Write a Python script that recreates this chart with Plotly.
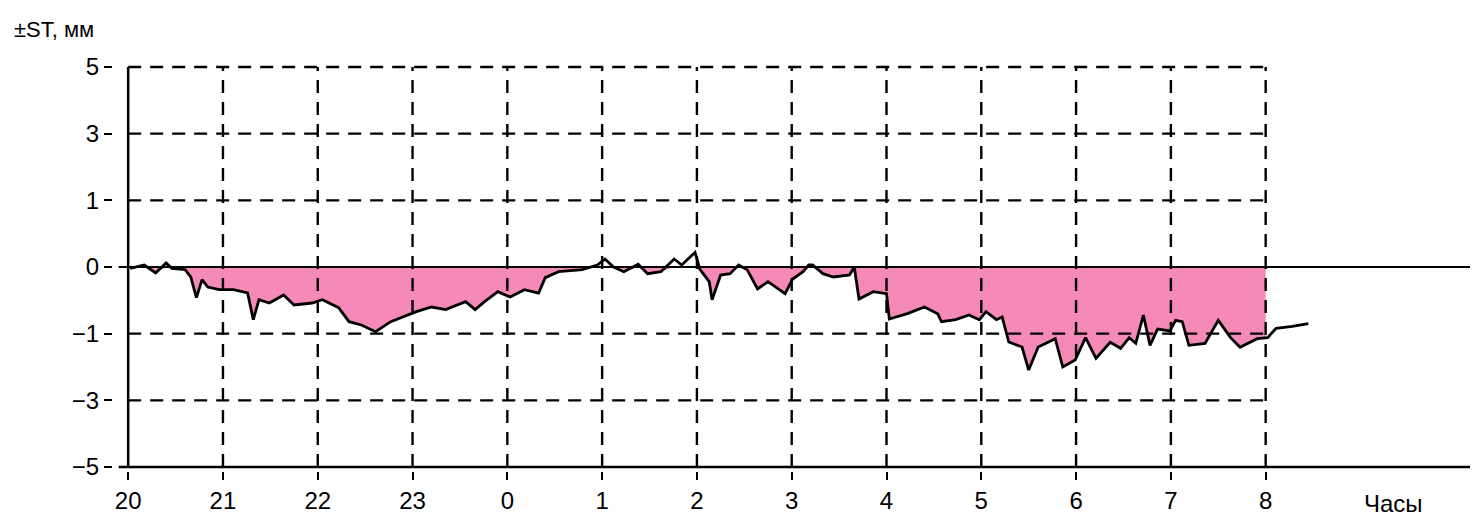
import numpy as np
import plotly.graph_objects as go

# hours elapsed since 20:00
hours = [0.02,0.17,0.29,0.40,0.46,0.60,0.66,0.72,0.78,0.84,
         0.96,1.11,1.26,1.32,1.38,1.49,1.64,1.75,1.94,2.05,
         2.22,2.33,2.46,2.61,2.77,2.90,3.04,3.20,3.35,3.56,
         3.66,3.76,3.90,4.03,4.18,4.33,4.40,4.54,4.65,4.79,
         4.95,5.03,5.12,5.23,5.38,5.48,5.62,5.76,5.84,5.98,
         6.03,6.13,6.16,6.25,6.35,6.44,6.53,6.64,6.75,6.86,
         6.93,7.01,7.12,7.18,7.22,7.33,7.44,7.61,7.66,7.71,
         7.86,8.00,8.03,8.22,8.40,8.54,8.58,8.73,8.87,8.98,
         9.05,9.16,9.22,9.29,9.43,9.50,9.60,9.71,9.78,9.86,
         9.99,10.10,10.21,10.36,10.47,10.56,10.63,10.71,10.78,10.86,
         10.99,11.05,11.12,11.19,11.36,11.50,11.63,11.73,11.91,12.02,
         12.11,12.28,12.45]

# ST deviation, mm
st_mm = [-0.02,0.03,-0.09,0.06,-0.02,-0.04,-0.15,-0.46,-0.19,-0.30,
         -0.34,-0.34,-0.39,-0.79,-0.49,-0.54,-0.42,-0.57,-0.54,-0.49,
         -0.61,-0.82,-0.87,-0.97,-0.82,-0.75,-0.67,-0.60,-0.64,-0.52,
         -0.64,-0.52,-0.37,-0.45,-0.34,-0.39,-0.16,-0.07,-0.06,-0.04,
         0.03,0.12,0.0,-0.07,0.04,-0.10,-0.07,0.12,0.03,0.22,
         -0.03,-0.22,-0.49,-0.12,-0.10,0.03,-0.04,-0.33,-0.22,-0.33,
         -0.40,-0.18,-0.07,0.03,0.03,-0.10,-0.15,-0.12,0.0,-0.48,
         -0.37,-0.40,-0.78,-0.70,-0.60,-0.70,-0.82,-0.79,-0.72,-0.79,
         -0.67,-0.79,-0.75,-1.25,-1.40,-2.09,-1.40,-1.25,-1.15,-2.0,
         -1.79,-1.12,-1.74,-1.26,-1.44,-1.12,-1.29,-0.72,-1.35,-0.93,
         -0.96,-0.80,-0.82,-1.35,-1.29,-0.80,-1.12,-1.41,-1.15,-1.12,
         -0.92,-0.89,-0.85]

hour_labels = ["20","21","22","23","0","1","2","3","4","5","6","7","8"]
y_tick_mm = [5, 3, 1, 0, -1, -3, -5]
y_tick_text = ["5", "3", "1", "0", "−1", "−3", "−5"]

FILL_END = 12.0   # shading stops at 8 o'clock


def mm_to_axis(v):
    """Piecewise axis: 1 unit per mm within ±1 mm, 2 mm per unit beyond."""
    v = np.asarray(v, dtype=float)
    a = np.abs(v)
    return np.sign(v) * np.where(a <= 1, a, 1 + (a - 1) / 2)


t = np.array(hours)
yp = mm_to_axis(st_mm)

mask = t <= FILL_END
fx = np.append(t[mask], FILL_END)
fy = np.append(yp[mask], np.interp(FILL_END, t, yp))
fy = np.minimum(fy, 0)

fig = go.Figure()
fig.add_trace(go.Scatter(x=fx, y=fy, mode="lines", line=dict(width=0),
                         fill="tozeroy", fillcolor="#F589B8", hoverinfo="skip",
                         showlegend=False))
fig.add_trace(go.Scatter(x=t, y=yp, mode="lines",
                         line=dict(color="black", width=2.8),
                         showlegend=False))

ytick_pos = list(mm_to_axis(y_tick_mm))
X_MAX = 14.24
shapes = []
dash = "13px,9px"
# horizontal dashed grid
for yv in ytick_pos:
    if yv == 0 or yv == -3:
        continue
    shapes.append(dict(type="line", xref="x", yref="y", x0=0, x1=FILL_END,
                       y0=yv, y1=yv, line=dict(color="black", width=2.4, dash=dash),
                       layer="above"))
# vertical dashed grid
for i in range(1, len(hour_labels)):
    shapes.append(dict(type="line", xref="x", yref="y", x0=i, x1=i,
                       y0=-3, y1=3, line=dict(color="black", width=2.4, dash=dash),
                       layer="above"))
# solid zero line and axes
shapes.append(dict(type="line", xref="x", yref="y", x0=-0.1, x1=X_MAX,
                   y0=0, y1=0, line=dict(color="black", width=2), layer="above"))
shapes.append(dict(type="line", xref="x", yref="y", x0=-0.1, x1=X_MAX,
                   y0=-3, y1=-3, line=dict(color="black", width=2.5), layer="above"))
shapes.append(dict(type="line", xref="x", yref="y", x0=0, x1=0,
                   y0=-3, y1=3, line=dict(color="black", width=2.5), layer="above"))

font = dict(family="Liberation Sans, Arial, sans-serif", size=24, color="black")

fig.update_layout(
    width=1470, height=514,
    margin=dict(l=105, r=0, t=55, b=51),
    paper_bgcolor="white", plot_bgcolor="white",
    font=font,
    shapes=shapes,
    xaxis=dict(range=[-0.16, X_MAX], tickvals=list(range(len(hour_labels))),
               ticktext=hour_labels, showgrid=False, zeroline=False,
               ticks="outside", ticklen=8, tickwidth=2, tickcolor="black",
               showline=False, fixedrange=True),
    yaxis=dict(range=[-3.06, 3.06], tickvals=ytick_pos, ticktext=y_tick_text,
               showgrid=False, zeroline=False, ticks="outside", ticklen=8,
               tickwidth=2, tickcolor="black", showline=False,
               ticklabelstandoff=0, fixedrange=True),
    annotations=[
        dict(text="±ST, мм", xref="paper", yref="paper", x=-0.074, y=1.081,
             xanchor="left", yanchor="middle", showarrow=False,
             font=dict(family="Liberation Sans, Arial, sans-serif", size=22)),
        dict(text="Часы", xref="x", yref="paper", x=13.35, y=0,
             xanchor="center", yanchor="middle", yshift=-32, showarrow=False,
             font=dict(family="Liberation Sans, Arial, sans-serif", size=24)),
    ],
)

fig.write_html("out.html")
